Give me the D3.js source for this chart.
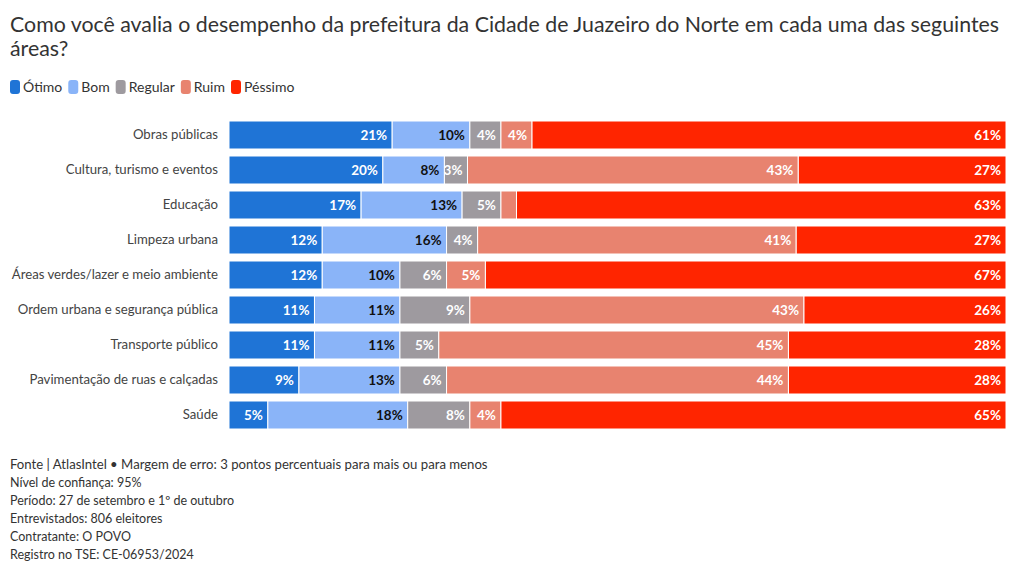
<!DOCTYPE html>
<html><head><meta charset="utf-8">
<script src="https://cdn.jsdelivr.net/npm/d3@7"></script>
<style>
html,body{margin:0;padding:0;background:#fff;}
svg{display:block;font-family:"Lato","Noto Sans",sans-serif;}
</style></head>
<body><svg id="c" width="1020" height="574"></svg>
<script>
const categories = ["Obras públicas","Cultura, turismo e eventos","Educação","Limpeza urbana","Áreas verdes/lazer e meio ambiente","Ordem urbana e segurança pública","Transporte público","Pavimentação de ruas e calçadas","Saúde"];
const seriesNames = ["Ótimo","Bom","Regular","Ruim","Péssimo"];
const otimo   = [21,20,17,12,12,11,11,9,5];
const bom     = [10,8,13,16,10,11,11,13,18];
const regular = [4,3,5,4,6,9,5,6,8];
const ruim    = [4,43,2,41,5,43,45,44,4];
const pessimo = [61,27,63,27,67,26,28,28,65];
const colors = ["#1f74d6","#8ab4f8","#9e9a9f","#e8836f","#ff2500"];
const labelColors = ["#fff","#111","#fff","#fff","#fff"];
const titleLines = ["Como você avalia o desempenho da prefeitura da Cidade de Juazeiro do Norte em cada uma das seguintes","áreas?"];
const footerLines = ["Fonte | AtlasIntel • Margem de erro: 3 pontos percentuais para mais ou para menos","Nível de confiança: 95%","Período: 27 de setembro e 1º de outubro","Entrevistados: 806 eleitores","Contratante: O POVO","Registro no TSE: CE-06953/2024"];

const seriesVals = [otimo,bom,regular,ruim,pessimo];
const rows = categories.map((c,i)=>{const o={cat:c}; seriesNames.forEach((s,j)=>o[s]=seriesVals[j][i]); return o;});
const stack = d3.stack().keys(seriesNames).offset(d3.stackOffsetExpand)(rows);

const svg = d3.select("#c");
const fit = (sel, w) => { const n = sel.node(); const l = n.getComputedTextLength(); const fs = parseFloat(sel.attr("font-size")); sel.attr("font-size", fs*w/l); };

// title
const t1 = svg.append("text").attr("x",10).attr("y",32).attr("font-size",20).attr("fill","#333").text(titleLines[0]);
fit(t1, 990);
const tfs = t1.attr("font-size");
svg.append("text").attr("x",10).attr("y",56).attr("font-size",tfs).attr("fill","#333").text(titleLines[1]);

// legend
let lx = 10;
seriesNames.forEach((s,i)=>{
  const g = svg.append("g").attr("transform",`translate(${lx},0)`);
  g.append("rect").attr("x",0).attr("y",80).attr("width",10).attr("height",14).attr("rx",3).attr("fill",colors[i]);
  const tx = g.append("text").attr("x",13).attr("y",92).attr("font-size",14).attr("fill","#333").text(s);
  lx += 13 + tx.node().getComputedTextLength() + 6;
});

const x = d3.scaleLinear().domain([0,1]).range([229,1006]);
const y = d3.scaleBand().domain(categories).range([117.5,432.5]).paddingInner(0.2).paddingOuter(0.1);

const yAxis = svg.append("g").attr("transform","translate(229,0)").call(d3.axisLeft(y).tickSize(0).tickPadding(11));
yAxis.select(".domain").remove();
yAxis.selectAll("text").attr("font-size",13.2).attr("fill","#444").attr("font-family","Lato, 'Noto Sans', sans-serif");

const layers = svg.append("g").selectAll("g").data(stack).join("g").attr("fill",(d,i)=>colors[i]);
layers.selectAll("rect").data(d=>d.map(v=>({v,cat:v.data.cat}))).join("rect")
  .attr("x",d=>x(d.v[0])).attr("width",d=>x(d.v[1])-x(d.v[0]))
  .attr("y",d=>y(d.cat)).attr("height",y.bandwidth())
  .attr("stroke","#fff").attr("stroke-width",1);

stack.forEach((layer,i)=>{
  svg.append("g").selectAll("text").data(layer.filter(v=>v.data[seriesNames[i]]>=3)).join("text")
    .attr("x",v=>x(v[1])-5).attr("y",v=>y(v.data.cat)+y.bandwidth()/2)
    .attr("dy","0.35em").attr("text-anchor","end").attr("font-size",13.5).attr("font-weight","bold")
    .attr("fill",labelColors[i]).text(v=>v.data[seriesNames[i]]+"%");
});

// footer
footerLines.forEach((l,i)=>{
  const t = svg.append("text").attr("x",10).attr("y",469+i*18).attr("font-size",12.5).attr("fill","#333").text(l);
  if(i===0) fit(t,478);
});
</script></body></html>
